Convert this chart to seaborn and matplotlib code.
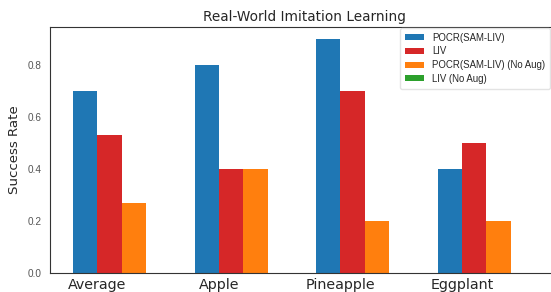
import matplotlib
matplotlib.use("Agg")
import matplotlib.pyplot as plt
import seaborn as sns
import pandas as pd

tasks = ["Average", "Apple", "Pineapple", "Eggplant"]
methods = ["POCR(SAM-LIV)", "LIV", "POCR(SAM-LIV) (No Aug)", "LIV (No Aug)"]
pocr = [0.70, 0.80, 0.90, 0.40]
liv = [0.53, 0.40, 0.70, 0.50]
pocr_noaug = [0.27, 0.40, 0.20, 0.20]
liv_noaug = [0.0, 0.0, 0.0, 0.0]
colors = ["#1f77b4", "#d62728", "#ff7f0e", "#2ca02c"]

series = [pocr, liv, pocr_noaug, liv_noaug]
rows = []
for m, vals in zip(methods, series):
    for t, v in zip(tasks, vals):
        rows.append({"task": t, "method": m, "rate": v})
df = pd.DataFrame(rows)

sns.set_style("white")
plt.rcParams["font.family"] = ["DejaVu Sans"]
fig = plt.figure(figsize=(5.51, 2.92), dpi=100)
ax = fig.add_axes([50 / 551, 1 - 273 / 292, 508 / 551, 246 / 292])

sns.barplot(data=df, x="task", y="rate", hue="method", order=tasks,
            hue_order=methods, palette=colors, saturation=1, width=0.8,
            ax=ax, errorbar=None, linewidth=0)

ax.set_xticks([i - 0.2 for i in range(len(tasks))])
ax.set_xticklabels(tasks, fontsize=10.3)
ax.set_xlim(-0.59, 3.59)
ax.set_ylim(0, 0.945)
ax.set_yticks([0.0, 0.2, 0.4, 0.6, 0.8])
ax.set_yticklabels(["0.0", "0.2", "0.4", "0.6", "0.8"], family="Liberation Sans")
ax.tick_params(axis="y", labelsize=7.2, labelcolor="#555555", length=3, width=0.6, pad=3)
ax.tick_params(axis="x", length=3, width=0.6, pad=0.5)
ax.set_xlabel("")
ax.set_ylabel("Success Rate", fontsize=9.6, labelpad=5)
ax.set_title("Real-World Imitation Learning", fontsize=9.8, pad=4)
for s in ax.spines.values():
    s.set_color("#333333")
    s.set_linewidth(0.8)

leg = ax.legend(loc="upper right", bbox_to_anchor=(550 / 551, 1 - 28 / 292),
                bbox_transform=fig.transFigure, frameon=True, borderaxespad=0,
                prop={"family": "Liberation Sans", "size": 6.9},
                handlelength=2.0, handleheight=0.6, handletextpad=0.8,
                borderpad=0.5, labelspacing=0.38)
leg.get_frame().set_edgecolor("#dddddd")

fig.savefig("out.png", dpi=100)
